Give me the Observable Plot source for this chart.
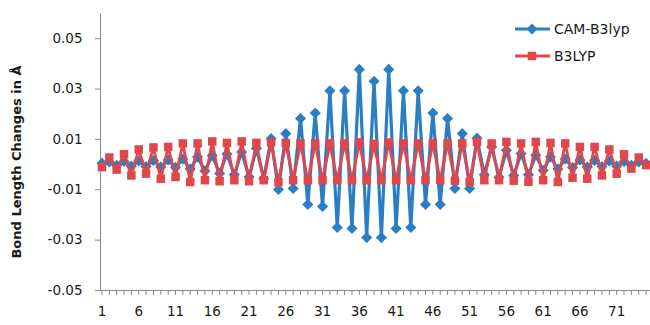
<!DOCTYPE html>
<html>
<head>
<meta charset="utf-8">
<script src="https://cdn.jsdelivr.net/npm/d3@7"></script>
<script src="https://cdn.jsdelivr.net/npm/@observablehq/plot@0.6"></script>
<style>
  body { margin: 0; background: #fff; }
  #chart { position: relative; width: 650px; height: 325px; }
</style>
</head>
<body>
<div id="chart"></div>
<script>
// Bond positions along the chain
const positions = d3.range(1, 76);

// Bond length changes (Å) per functional
const camB3lyp = [
  0.0005, 0.0010, -0.0003, 0.0012, -0.0006, 0.0014, -0.0008, 0.0016, -0.0010, 0.0018,
  -0.0012, 0.0022, -0.0018, 0.0030, -0.0025, 0.0036, -0.0035, 0.0042, -0.0040, 0.0050,
  -0.0048, 0.0064, -0.0056, 0.0103, -0.0099, 0.0123, -0.0095, 0.0183, -0.0158, 0.0205,
  -0.0166, 0.0293, -0.0250, 0.0293, -0.0254, 0.0378, -0.0290, 0.0331, -0.0290, 0.0378,
  -0.0254, 0.0293, -0.0250, 0.0293, -0.0158, 0.0205, -0.0158, 0.0183, -0.0095, 0.0123,
  -0.0095, 0.0105, -0.0040, 0.0070, -0.0050, 0.0057, -0.0043, 0.0044, -0.0040, 0.0037,
  -0.0023, 0.0030, -0.0018, 0.0022, -0.0012, 0.0018, -0.0010, 0.0016, -0.0008, 0.0014,
  -0.0006, 0.0012, -0.0003, 0.0010, 0.0005
];
const b3lyp = [
  -0.0010, 0.0028, -0.0020, 0.0041, -0.0043, 0.0060, -0.0036, 0.0068, -0.0056, 0.0070,
  -0.0049, 0.0084, -0.0069, 0.0084, -0.0062, 0.0092, -0.0066, 0.0086, -0.0062, 0.0092,
  -0.0066, 0.0086, -0.0062, 0.0088, -0.0070, 0.0086, -0.0062, 0.0084, -0.0062, 0.0084,
  -0.0062, 0.0084, -0.0062, 0.0084, -0.0062, 0.0088, -0.0062, 0.0082, -0.0062, 0.0088,
  -0.0062, 0.0084, -0.0062, 0.0084, -0.0062, 0.0084, -0.0062, 0.0084, -0.0064, 0.0084,
  -0.0069, 0.0090, -0.0062, 0.0084, -0.0062, 0.0090, -0.0064, 0.0084, -0.0068, 0.0090,
  -0.0062, 0.0086, -0.0069, 0.0084, -0.0052, 0.0070, -0.0056, 0.0070, -0.0043, 0.0060,
  -0.0036, 0.0041, -0.0016, 0.0028, -0.0002
];

const seriesNames = ["CAM-B3lyp", "B3LYP"];
const seriesColors = ["#2a7fc4", "#e0474c"];
const yTicks = [-0.05, -0.03, -0.01, 0.01, 0.03, 0.05];
const xTickLabels = [1, 6, 11, 16, 21, 26, 31, 36, 41, 46, 51, 56, 61, 66, 71];
const yTitle = "Bond Length Changes in Å";

const camRows = positions.map((p, i) => ({pos: p, value: camB3lyp[i]}));
const b3Rows = positions.map((p, i) => ({pos: p, value: b3lyp[i]}));

const axisColor = "#8a8a8a";
const font = "DejaVu Sans";

const chart = Plot.plot({
  width: 650,
  height: 325,
  marginLeft: 100,
  marginRight: 0,
  marginTop: 13,
  marginBottom: 35,
  style: {fontFamily: font, fontSize: "13.5px", color: "#1a1a1a", background: "#fff"},
  x: {domain: [0.8, 75.6], axis: null},
  y: {domain: [-0.05, 0.06], axis: null},
  marks: [
    // axis lines
    Plot.ruleX([0.8], {stroke: axisColor, strokeWidth: 1}),
    Plot.ruleY([-0.05], {stroke: axisColor, strokeWidth: 1}),
    // value axis
    Plot.axisY({ticks: yTicks, tickSize: 5, tickPadding: 13, stroke: axisColor,
      tickFormat: d => d.toFixed(2), label: null, fill: "#1a1a1a"}),
    // category ticks on every bond, labels every fifth
    Plot.axisX({ticks: positions, tickSize: 5, stroke: axisColor, tickFormat: () => "", label: null}),
    Plot.axisX({ticks: xTickLabels, tickSize: 0, tickPadding: 16, tickFormat: d => String(d),
      label: null, fill: "#1a1a1a"}),
    // CAM-B3lyp
    Plot.lineY(camRows, {x: "pos", y: "value", stroke: seriesColors[0], strokeWidth: 3.2}),
    Plot.dot(camRows, {x: "pos", y: "value", symbol: "diamond2", r: 5, fill: seriesColors[0], stroke: "none"}),
    // B3LYP
    Plot.lineY(b3Rows, {x: "pos", y: "value", stroke: seriesColors[1], strokeWidth: 2.8}),
    Plot.dot(b3Rows, {x: "pos", y: "value", symbol: "square", r: 4.8, fill: seriesColors[1], stroke: "none"})
  ]
});

document.getElementById("chart").appendChild(chart);

// y-axis title and legend
const svg = d3.select(chart);
svg.append("text")
  .attr("transform", "translate(21,162) rotate(-90)")
  .attr("text-anchor", "middle")
  .attr("font-family", font)
  .attr("font-weight", "bold")
  .attr("font-size", 13)
  .attr("fill", "#1a1a1a")
  .text(yTitle);

const legendSymbols = [d3.symbolDiamond2, d3.symbolSquare];
const legendSizes = [5, 4.8];
seriesNames.forEach((name, i) => {
  const y = 29 + i * 27;
  const g = svg.append("g");
  g.append("line").attr("x1", 515).attr("x2", 550).attr("y1", y).attr("y2", y)
    .attr("stroke", seriesColors[i]).attr("stroke-width", i === 0 ? 3.2 : 2.8);
  g.append("path")
    .attr("transform", `translate(532,${y})`)
    .attr("d", d3.symbol(legendSymbols[i], legendSizes[i] * legendSizes[i] * Math.PI)())
    .attr("fill", seriesColors[i]);
  g.append("text").attr("x", 554).attr("y", y).attr("dy", "0.35em")
    .attr("text-anchor", "start")
    .attr("font-family", font).attr("font-size", 14).attr("fill", "#1a1a1a")
    .text(name);
});
</script>
</body>
</html>
